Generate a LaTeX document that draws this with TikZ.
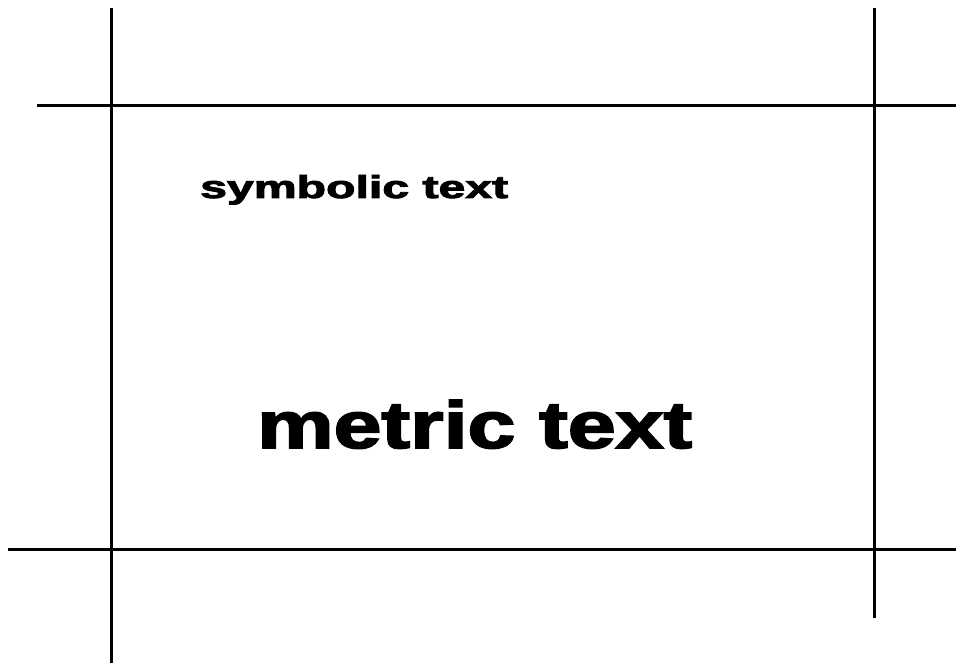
\documentclass[tikz,border=0pt]{standalone}
\usepackage{fontspec}
\setmainfont{Liberation Sans}
\newfontfamily\heavyfont{Liberation Sans}[BoldFeatures={FakeBold=2.5}]
\usepackage{graphicx}
\usetikzlibrary{positioning}

\begin{document}
\begin{tikzpicture}[x=1pt, y=-1pt,
	guide/.style={draw, line width=3pt},
	textlabel/.style={anchor=base west, inner sep=0pt, font=\heavyfont\bfseries}]
	\useasboundingbox (0,0) rectangle (956,663);
	% grid lines
	\coordinate (vl top) at (111,8);
	\coordinate (vl bot) at (111,663);
	\coordinate (vr top) at (874,8);
	\coordinate (vr bot) at (874,618);
	\coordinate (ht left) at (37,106);
	\coordinate (ht right) at (956,106);
	\coordinate (hb left) at (8,549);
	\coordinate (hb right) at (956,549);
	\draw[guide] (vl top) -- (vl bot);
	\draw[guide] (vr top) -- (vr bot);
	\draw[guide] (ht left) -- (ht right);
	\draw[guide] (hb left) -- (hb right);
	% texts
	\node[textlabel] (symbolic) at (200,198) {\resizebox{308pt}{23pt}{symbolic text}};
	\node[textlabel] (metric) at (257,448) {\resizebox{435pt}{48pt}{metric text}};
\end{tikzpicture}
\end{document}
